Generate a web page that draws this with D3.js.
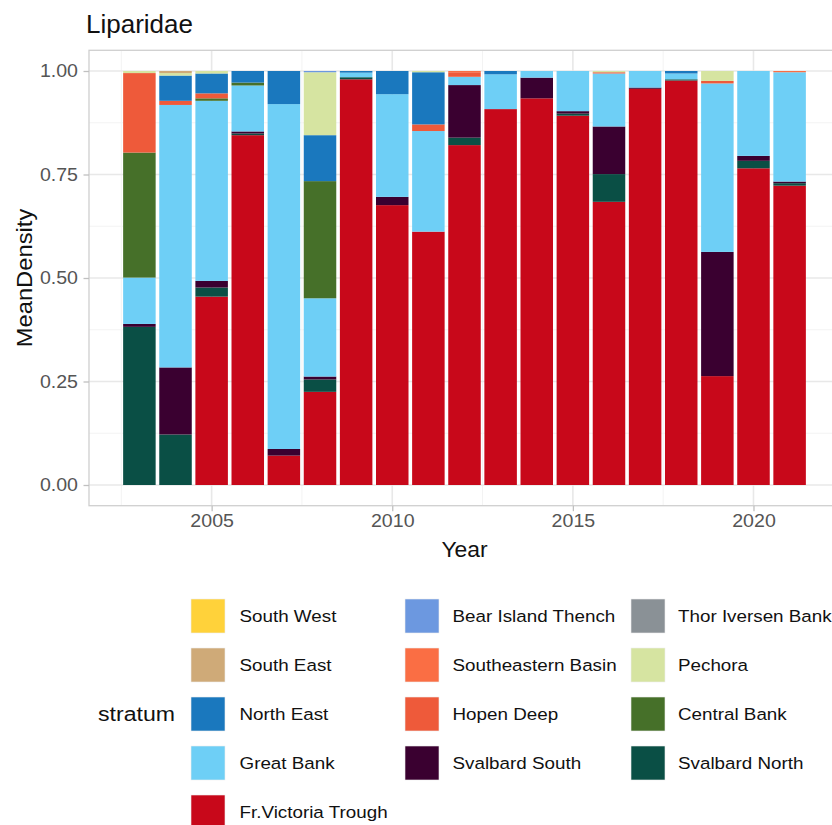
<!DOCTYPE html>
<html>
<head>
<meta charset="utf-8">
<script src="https://cdn.jsdelivr.net/npm/d3@7"></script>
<style>
  html, body { margin: 0; padding: 0; background: #ffffff; }
  svg { display: block; font-family: "Liberation Sans", Arial, sans-serif; }
</style>
</head>
<body>
<svg id="chart" width="832" height="825"></svg>
<script>
// ---------------- DATA ----------------
const years = [2003, 2004, 2005, 2006, 2007, 2008, 2009, 2010, 2011, 2012,
               2013, 2014, 2015, 2016, 2017, 2018, 2019, 2020, 2021];

const frVictoriaTrough = [0, 0, 0.455, 0.845, 0.071, 0.225, 0.980, 0.676, 0.612, 0.821, 0.908, 0.934, 0.892, 0.684, 0.957, 0.977, 0.263, 0.765, 0.723];
const svalbardNorth    = [0.382, 0.122, 0.022, 0.004, 0, 0.030, 0.005, 0, 0, 0.018, 0, 0, 0.005, 0.067, 0, 0.003, 0, 0.018, 0.006];
const svalbardSouth    = [0.007, 0.162, 0.016, 0.005, 0.016, 0.007, 0, 0.020, 0, 0.127, 0, 0.050, 0.006, 0.115, 0.003, 0, 0.300, 0.012, 0.004];
const greatBank        = [0.112, 0.634, 0.435, 0.111, 0.833, 0.189, 0.011, 0.248, 0.243, 0.020, 0.084, 0.016, 0.097, 0.128, 0.040, 0.014, 0.407, 0.205, 0.264];
const centralBank      = [0.302, 0, 0.006, 0.007, 0, 0.283, 0, 0, 0, 0, 0, 0, 0, 0, 0, 0, 0, 0, 0];
const hopenDeep        = [0.192, 0.010, 0.012, 0, 0, 0, 0, 0, 0.016, 0.011, 0, 0, 0, 0.003, 0, 0, 0.006, 0, 0];
const southeasternBasin= [0, 0, 0, 0, 0, 0, 0, 0, 0, 0.003, 0, 0, 0, 0, 0, 0, 0, 0, 0.003];
const northEast        = [0, 0.061, 0.048, 0.028, 0.080, 0.111, 0.004, 0.056, 0.126, 0, 0.008, 0, 0, 0, 0, 0.006, 0, 0, 0];
const pechora          = [0.005, 0.006, 0.006, 0, 0, 0.152, 0, 0, 0.003, 0, 0, 0, 0, 0.003, 0, 0, 0.024, 0, 0];
const bearIslandThench = [0, 0, 0, 0, 0, 0.003, 0, 0, 0, 0, 0, 0, 0, 0, 0, 0, 0, 0, 0];
const thorIversenBank  = [0, 0, 0, 0, 0, 0, 0, 0, 0, 0, 0, 0, 0, 0, 0, 0, 0, 0, 0];
const southEast        = [0, 0.005, 0, 0, 0, 0, 0, 0, 0, 0, 0, 0, 0, 0, 0, 0, 0, 0, 0];
const southWest        = [0, 0, 0, 0, 0, 0, 0, 0, 0, 0, 0, 0, 0, 0, 0, 0, 0, 0, 0];

// stacking order, bottom to top
const stackOrder = ["Fr.Victoria Trough", "Svalbard North", "Svalbard South", "Great Bank",
  "Central Bank", "Hopen Deep", "Southeastern Basin", "North East", "Pechora",
  "Bear Island Thench", "Thor Iversen Bank", "South East", "South West"];
const seriesValues = {
  "Fr.Victoria Trough": frVictoriaTrough, "Svalbard North": svalbardNorth,
  "Svalbard South": svalbardSouth, "Great Bank": greatBank, "Central Bank": centralBank,
  "Hopen Deep": hopenDeep, "Southeastern Basin": southeasternBasin, "North East": northEast,
  "Pechora": pechora, "Bear Island Thench": bearIslandThench,
  "Thor Iversen Bank": thorIversenBank, "South East": southEast, "South West": southWest
};
const strataColors = {
  "South West": "#FFD23A", "South East": "#CFAA78", "North East": "#1A78BE",
  "Great Bank": "#6ECFF6", "Fr.Victoria Trough": "#C8081A", "Bear Island Thench": "#6C98E0",
  "Southeastern Basin": "#FA6E44", "Hopen Deep": "#EE5A3A", "Svalbard South": "#3A0030",
  "Thor Iversen Bank": "#8A9196", "Pechora": "#D6E4A1", "Central Bank": "#467029",
  "Svalbard North": "#0A4F45"
};
const legendColumns = [
  ["South West", "South East", "North East", "Great Bank", "Fr.Victoria Trough"],
  ["Bear Island Thench", "Southeastern Basin", "Hopen Deep", "Svalbard South"],
  ["Thor Iversen Bank", "Pechora", "Central Bank", "Svalbard North"]
];
const yTicks = [0, 0.25, 0.5, 0.75, 1];
const yMinor = [0.125, 0.375, 0.625, 0.875];
const xTicks = [2005, 2010, 2015, 2020];
const xMinor = [2002.5, 2007.5, 2012.5, 2017.5, 2022.5];

// ---------------- LAYOUT ----------------
const svg = d3.select("#chart");
svg.append("rect").attr("width", 832).attr("height", 825).attr("fill", "#fff");

const P = { left: 89, right: 840, top: 50.3, bottom: 505.7 };
const x = d3.scaleLinear().domain([2001.605, 2022.395]).range([P.left, P.right]);
const y = d3.scaleLinear().domain([-0.05, 1.05]).range([P.bottom, P.top]);
const SX = 1.12; // horizontal text stretch

const panel = svg.append("g");
// minor grid
panel.selectAll(".ymin").data(yMinor).enter().append("line")
  .attr("x1", P.left).attr("x2", P.right).attr("y1", d => y(d)).attr("y2", d => y(d))
  .attr("stroke", "#f3f3f3").attr("stroke-width", 1);
panel.selectAll(".xmin").data(xMinor).enter().append("line")
  .attr("y1", P.top).attr("y2", P.bottom).attr("x1", d => x(d)).attr("x2", d => x(d))
  .attr("stroke", "#f3f3f3").attr("stroke-width", 1);
// major grid
panel.selectAll(".ymaj").data(yTicks).enter().append("line")
  .attr("x1", P.left).attr("x2", P.right).attr("y1", d => y(d)).attr("y2", d => y(d))
  .attr("stroke", "#e8e8e8").attr("stroke-width", 1.6);
panel.selectAll(".xmaj").data(xTicks).enter().append("line")
  .attr("y1", P.top).attr("y2", P.bottom).attr("x1", d => x(d)).attr("x2", d => x(d))
  .attr("stroke", "#e8e8e8").attr("stroke-width", 1.6);

// bars
const table = years.map((yr, i) => {
  const row = { year: yr };
  stackOrder.forEach(k => row[k] = seriesValues[k][i]);
  return row;
});
const stacked = d3.stack().keys(stackOrder)(table);
const barW = 0.9;
svg.append("g").selectAll("g").data(stacked).enter().append("g")
  .attr("fill", d => strataColors[d.key])
  .selectAll("rect").data(d => d.filter(p => p[1] - p[0] > 0)).enter().append("rect")
  .attr("x", d => x(d.data.year - barW / 2))
  .attr("width", d => x(d.data.year + barW / 2) - x(d.data.year - barW / 2))
  .attr("y", d => y(d[1]))
  .attr("height", d => y(d[0]) - y(d[1]));

// panel border
svg.append("rect").attr("x", P.left).attr("y", P.top)
  .attr("width", P.right - P.left).attr("height", P.bottom - P.top)
  .attr("fill", "none").attr("stroke", "#cfcfcf").attr("stroke-width", 1.3);

// axes
const yAxis = svg.append("g").attr("transform", `translate(${P.left},0)`)
  .call(d3.axisLeft(y).tickValues(yTicks).tickFormat(d3.format(".2f")).tickSize(5.5).tickPadding(4.3));
const xAxis = svg.append("g").attr("transform", `translate(0,${P.bottom})`)
  .call(d3.axisBottom(x).tickValues(xTicks).tickFormat(d3.format("d")).tickSize(5.5).tickPadding(3.5));
[yAxis, xAxis].forEach(a => {
  a.select(".domain").remove();
  a.selectAll(".tick line").attr("stroke", "#c0c0c0").attr("stroke-width", 1.3);
  a.selectAll(".tick text").attr("fill", "#555").attr("font-size", 17.5)
    .attr("font-family", "Liberation Sans, Arial, sans-serif")
    .attr("transform", `scale(${SX},1)`);
});
yAxis.selectAll(".tick text").attr("x", -11 / SX);

// title
svg.append("text").attr("x", 86).attr("y", 33).attr("font-size", 26).attr("fill", "#111")
  .text("Liparidae");
// axis titles
svg.append("text").attr("transform", `translate(${(P.left + P.right) / 2},557) scale(1.04,1)`)
  .attr("text-anchor", "middle").attr("font-size", 22).attr("fill", "#111").text("Year");
svg.append("text").attr("transform", `translate(32,${(P.top + P.bottom) / 2}) rotate(-90) scale(1.08,1)`)
  .attr("text-anchor", "middle").attr("font-size", 22).attr("fill", "#111").text("MeanDensity");

// legend
const keyX = [191, 405, 631];
const textX = [239.5, 452.5, 678];
const rowTop = 599, rowStep = 49, keySize = 34;
const leg = svg.append("g");
legendColumns.forEach((col, ci) => {
  const g = leg.append("g");
  g.selectAll("rect").data(col).enter().append("rect")
    .attr("x", keyX[ci]).attr("y", (d, i) => rowTop + i * rowStep)
    .attr("width", keySize).attr("height", keySize)
    .attr("fill", d => strataColors[d]).attr("stroke", "#eeeeee").attr("stroke-width", 0.6);
  g.selectAll("text").data(col).enter().append("text")
    .attr("transform", (d, i) => `translate(${textX[ci]},${rowTop + i * rowStep + keySize / 2}) scale(${SX},1)`)
    .attr("dominant-baseline", "central").attr("font-size", 16.8).attr("fill", "#111")
    .text(d => d);
});
svg.append("text").attr("transform", `translate(98,${rowTop + 2 * rowStep + keySize / 2}) scale(1.1,1)`)
  .attr("dominant-baseline", "central").attr("font-size", 21).attr("fill", "#111").text("stratum");
</script>
</body>
</html>
